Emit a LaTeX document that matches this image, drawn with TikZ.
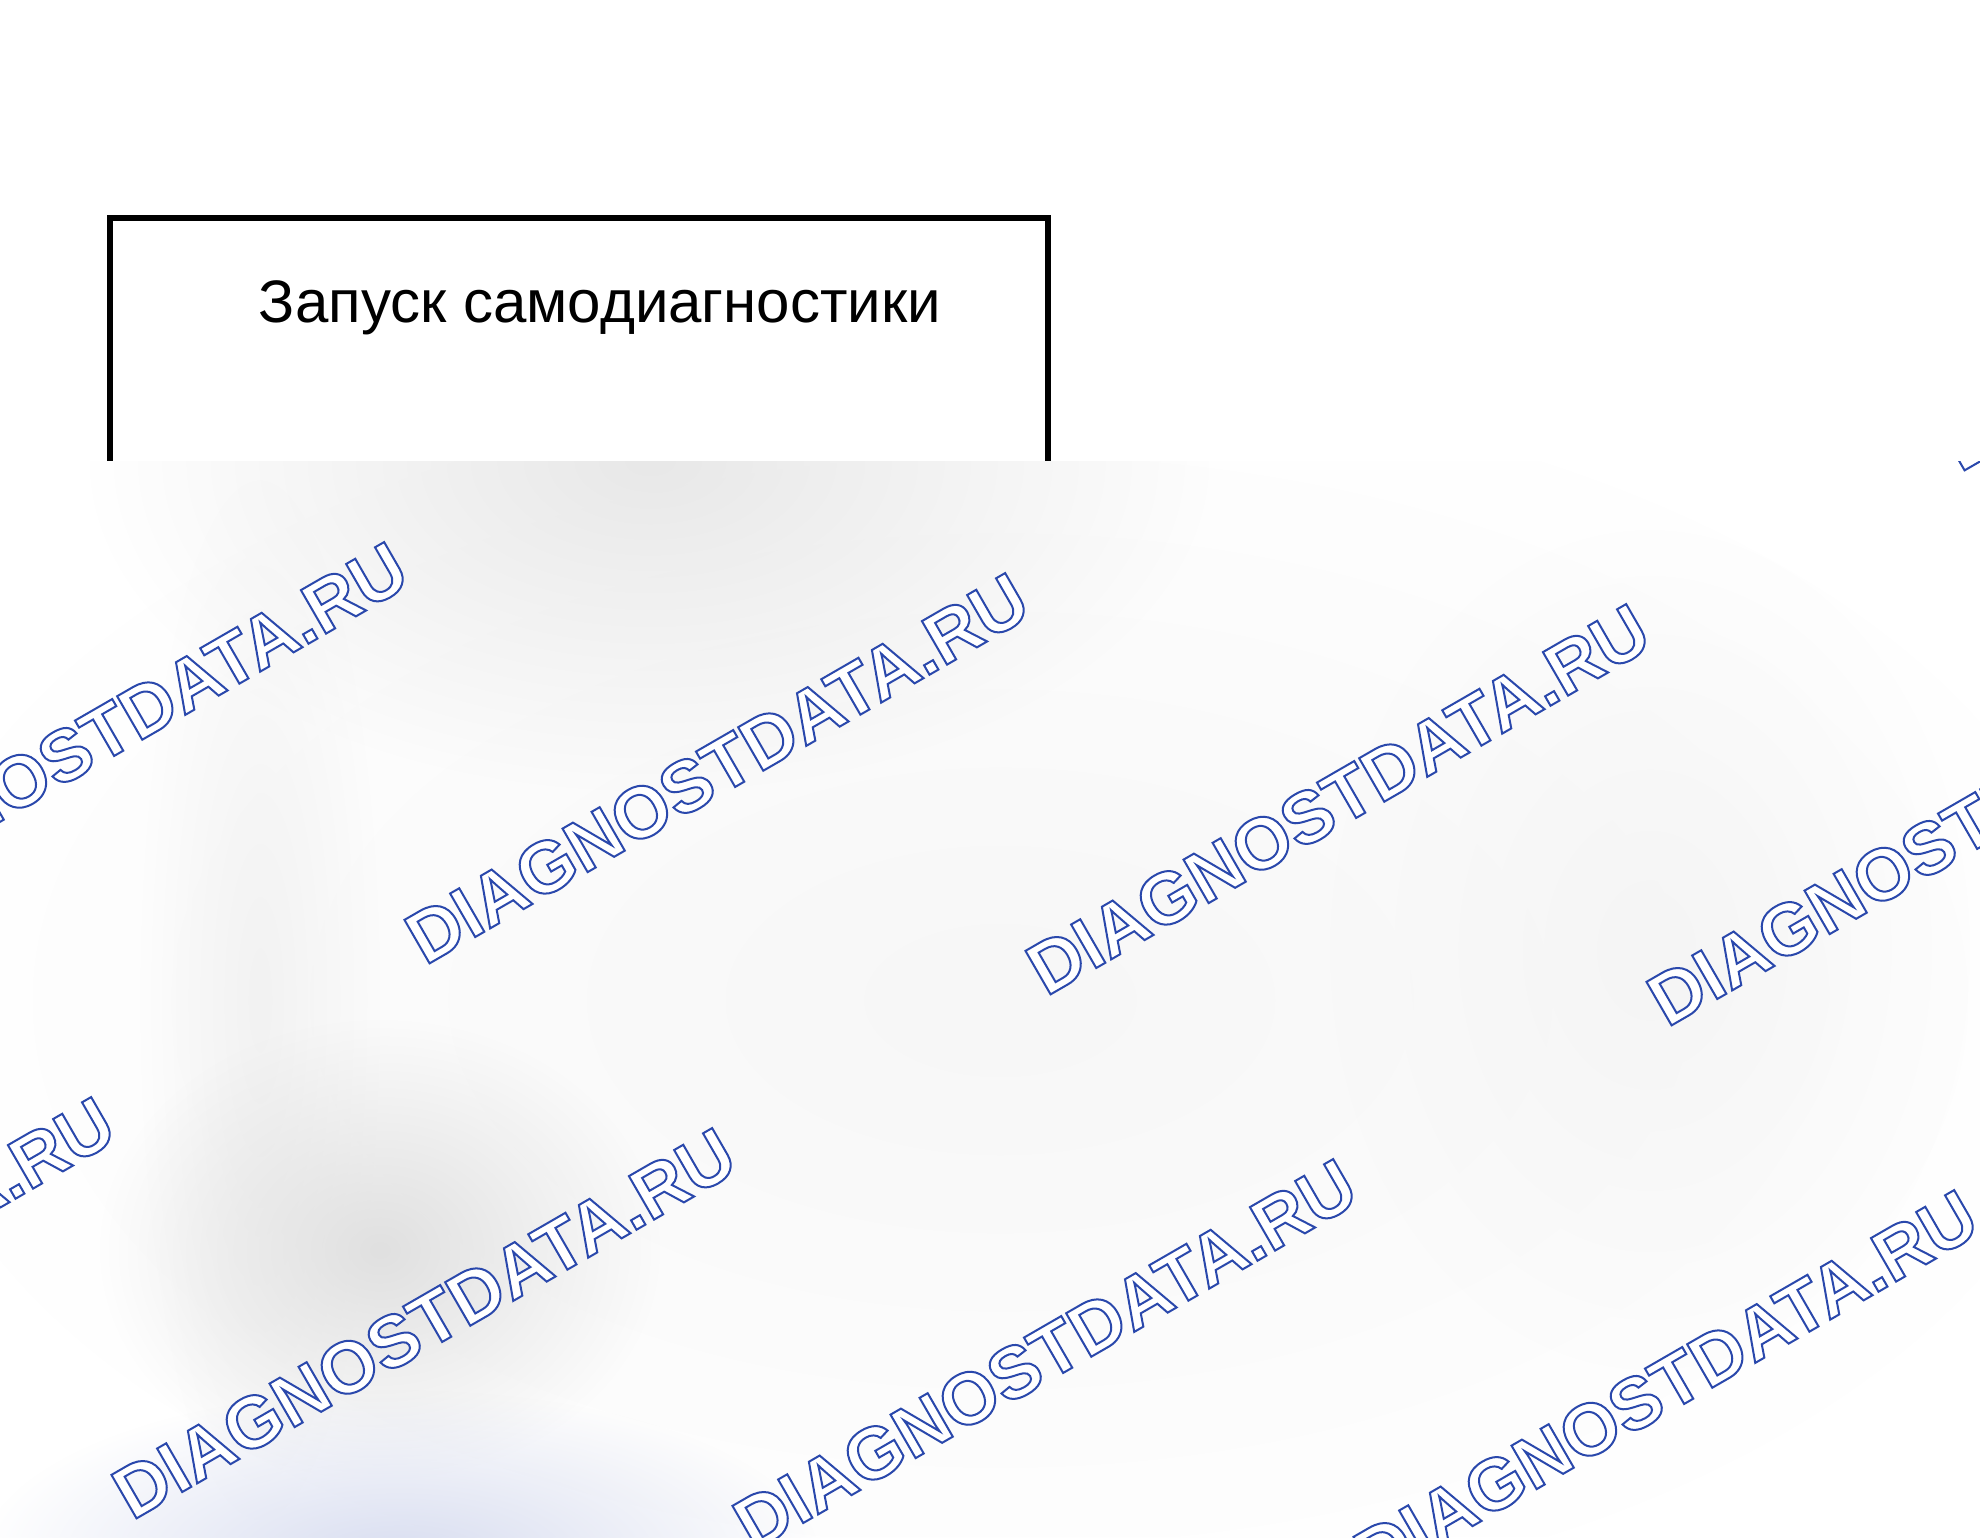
\documentclass[tikz,border=0pt]{standalone}
\usepackage{fontspec}
\setmainfont{Liberation Sans}
\newfontfamily\wmfamily{Liberation Sans}
\usetikzlibrary{fadings}
\tikzfading[name=softblob, inner color=transparent!0, outer color=transparent!100]
\definecolor{wmblue}{RGB}{42,72,172}
\definecolor{bluetint}{RGB}{216,221,240}
\newcommand{\wmtext}{\special{pdf:literal direct 0.165 0.282 0.675 RG 1.0 w 2 Tr}DIAGNOSTDATA.RU\special{pdf:literal direct 0 Tr}}
\tikzset{
  framebox/.style={draw=black, line width=3.2pt},
  titletext/.style={font=\fontsize{30pt}{34pt}\selectfont, inner sep=0pt, anchor=base},
  wm/.style={font=\wmfamily\bfseries\fontsize{36.5pt}{40pt}\selectfont, text=white, inner sep=0pt, anchor=base west, rotate=30},
  blob/.style={path fading=softblob},
}
\begin{document}
\begin{tikzpicture}[x=0.5pt, y=-0.5pt]
\useasboundingbox (0,0) rectangle (1980,1537);
\fill[white] (0,0) rectangle (1980,1537);
% box and title
\draw[framebox] (110,218) rectangle (1048,700);
\node[titletext] (title) at (600,322) {Запуск самодиагностики};
% overlay region
\begin{scope}
\clip (0,461) rectangle (1980,1537);
\fill[white] (0,461) rectangle (1980,1537);
\fill[black!3, blob] (1000,1000) ellipse (1100 and 620);
\fill[black!9, blob] (650,461) ellipse (560 and 330);
\fill[black!5, blob] (260,1000) ellipse (120 and 520);
\fill[black!4, blob] (1650,950) ellipse (320 and 420);
\fill[black!12, blob] (380,1250) ellipse (280 and 230);
\fill[bluetint, blob] (400,1560) ellipse (420 and 170);
% watermark grid
\foreach \i/\j in {2/-1, -1/0, 0/0, 1/0, 2/0, -1/1, 0/1, 1/1, 2/1} {
  \node[wm] (wm\i\j) at ({425+\i*621-\j*293}, {966+\i*31+\j*555}) {\wmtext};
}
\end{scope}
\end{tikzpicture}
\end{document}
